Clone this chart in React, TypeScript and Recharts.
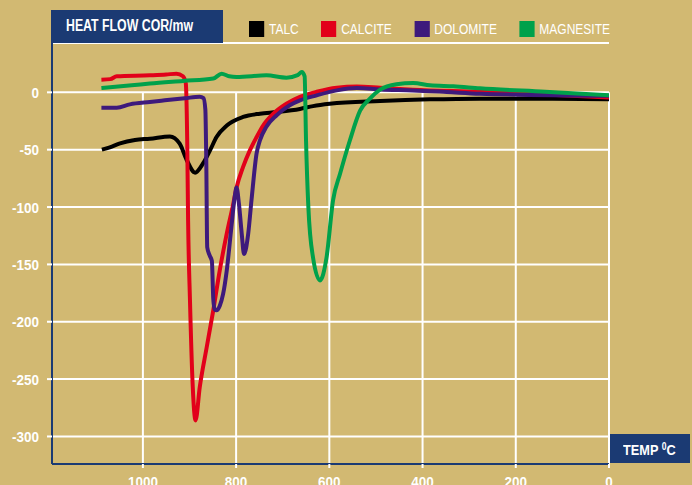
import React from 'react'
import {
  LineChart,
  Line,
  XAxis,
  YAxis,
  CartesianGrid,
  ReferenceLine,
  Legend,
} from 'recharts'

type Pt = { t: number; v: number }

const pts = (rows: number[][]): Pt[] => rows.map(([t, v]) => ({ t, v }))

// temperature (C) descending, heat flow (mw)
const talc = pts([
  [1088, -50], [1071, -48], [1049, -44.5], [1017, -41.5], [985, -40.4], [942, -38.4],
  [921, -44.7], [906, -59], [888, -70], [871, -62], [856, -50.6], [842, -39],
  [820, -29], [785, -21.5], [749, -18.6], [713, -17.2], [663, -14.5], [635, -12],
  [599, -10], [491, -7.6], [384, -6.1], [277, -5.5], [137, -5.5], [0, -6],
])

const calcite = pts([
  [1089, 11], [1070, 11.5], [1056, 14], [985, 14.8], [950, 15.5], [928, 16.3],
  [914, 14], [908, 8], [905, -40], [903, -112], [899, -181], [893, -257],
  [887, -286], [878, -257], [863, -222], [849, -190], [835, -155], [820, -123],
  [806, -97], [799, -83], [785, -65], [771, -51], [756, -39], [742, -29],
  [720, -18.6], [692, -10], [663, -4], [627, 0.5], [584, 4], [541, 5], [491, 4],
  [421, 2.3], [277, 0.5], [137, -2], [0, -4.5],
])

const dolomite = pts([
  [1089, -13.4], [1056, -13.4], [1028, -10.5], [985, -8.4], [953, -7], [910, -5.2],
  [878, -3.8], [870, -5], [866, -15], [864, -60], [862, -135], [857, -142],
  [852, -147], [849, -180], [846, -189], [842, -190], [835, -186], [828, -176],
  [820, -155], [810, -117], [803, -91], [799, -83], [794, -97], [788, -123],
  [783, -141], [774, -123], [767, -94], [756, -53], [749, -42], [735, -30],
  [713, -20], [685, -11.3], [663, -7], [627, -2.6], [584, 1.7], [541, 3.8],
  [491, 2.5], [421, 1.7], [348, 0.3], [277, -1.2], [0, -3],
])

const magnesite = pts([
  [1089, 3.8], [1024, 6.1], [985, 7.6], [914, 9.9], [849, 12], [831, 16.3],
  [815, 14], [799, 13.4], [735, 14.8], [692, 12.8], [668, 15], [659, 17.7],
  [653, 14], [650, -42], [645, -100], [635, -144], [620, -164], [606, -144],
  [592, -94], [577, -71], [556, -42], [534, -16], [513, -5.5], [491, 2.3],
  [456, 7], [420, 8.1], [384, 6.1], [334, 5.2], [277, 3.5], [137, 0.5], [0, -2.6],
])

const series = [
  { name: 'TALC', color: '#000000', data: talc },
  { name: 'CALCITE', color: '#E2001A', data: calcite },
  { name: 'DOLOMITE', color: '#3E1A7C', data: dolomite },
  { name: 'MAGNESITE', color: '#00A14B', data: magnesite },
]

const xTicks = [1000, 800, 600, 400, 200, 0]
const yTicks = [0, -50, -100, -150, -200, -250, -300]

const BG = '#D2B972'
const NAVY = '#1B3A73'
const FONT = '"Liberation Sans", Arial, sans-serif'

const squeeze = (x: number, k: number) => `translate(${x},0) scale(${k},1) translate(${-x},0)`

const YTick = (props: any) => {
  const { x, y, payload } = props
  return (
    <text x={x} y={y} dy={5.5} textAnchor="end" fill="#fff" fontSize={15} fontWeight={700}
      fontFamily={FONT} transform={squeeze(x, 0.9)}>
      {payload.value}
    </text>
  )
}

const XTick = (props: any) => {
  const { x, y, payload } = props
  return (
    <text x={x} y={y} dy={11} textAnchor="middle" fill="#fff" fontSize={15} fontWeight={700}
      fontFamily={FONT} transform={squeeze(x, 0.9)}>
      {payload.value}
    </text>
  )
}

const renderLegend = (props: any) => {
  const items = [...(props.payload || [])].sort(
    (a: any, b: any) =>
      series.findIndex((s) => s.name === a.value) - series.findIndex((s) => s.name === b.value),
  )
  return (
    <div style={{ display: 'flex', alignItems: 'center', fontFamily: FONT, transform: 'scaleX(0.8)', transformOrigin: '0 50%' }}>
      {items.map((p: any) => (
        <div key={p.value} style={{ display: 'flex', alignItems: 'center', marginRight: 28, whiteSpace: 'nowrap' }}>
          <span style={{ display: 'inline-block', width: 19, height: 16, background: p.color, marginRight: 6 }} />
          <span style={{ color: '#fff', fontSize: 15, lineHeight: '16px' }}>{p.value}</span>
        </div>
      ))}
    </div>
  )
}

export default function App() {
  return (
    <div style={{ position: 'absolute', left: 0, top: 0, width: 692, height: 485, background: BG, overflow: 'hidden' }}>
      <LineChart width={692} height={485} margin={{ top: 43, right: 83, bottom: 0, left: 0 }}>
        <CartesianGrid vertical={false} stroke="#fff" strokeWidth={2} />
        {xTicks.map((t) => (
          <ReferenceLine
            key={t}
            segment={[{ x: t, y: 0 }, { x: t, y: -324 }]}
            stroke="#fff"
            strokeWidth={2}
          />
        ))}
        <XAxis
          type="number"
          dataKey="t"
          domain={[0, 1195]}
          reversed
          allowDataOverflow
          ticks={xTicks}
          height={21}
          tickSize={4}
          tickMargin={8}
          axisLine={{ stroke: NAVY, strokeWidth: 2 }}
          tickLine={{ stroke: '#fff', strokeWidth: 2 }}
          tick={<XTick />}
        />
        <YAxis
          type="number"
          domain={[-324, 43]}
          allowDataOverflow
          ticks={yTicks}
          width={52}
          tickSize={5}
          tickMargin={8}
          axisLine={{ stroke: NAVY, strokeWidth: 2 }}
          tickLine={{ stroke: '#fff', strokeWidth: 2 }}
          tick={<YTick />}
        />
        <Legend
          verticalAlign="middle"
          align="center"
          content={renderLegend}
          wrapperStyle={{ left: 249, top: 21, width: 440, height: 16 }}
        />
        {series.map((s) => (
          <Line
            key={s.name}
            name={s.name}
            data={s.data}
            dataKey="v"
            type="monotone"
            stroke={s.color}
            strokeWidth={4}
            dot={false}
            activeDot={false}
            isAnimationActive={false}
          />
        ))}
      </LineChart>
      <div
        style={{
          position: 'absolute', left: 51, top: 10, width: 172, height: 33, background: NAVY,
          boxSizing: 'border-box', paddingLeft: 15, paddingTop: 8,
        }}
      >
        <div
          style={{
            color: '#fff', fontFamily: FONT, fontWeight: 700, fontSize: 16, lineHeight: '16px',
            whiteSpace: 'nowrap', transform: 'scaleX(0.77)', transformOrigin: '0 50%',
          }}
        >
          HEAT FLOW COR/mw
        </div>
      </div>
      <div
        style={{
          position: 'absolute', left: 610, top: 434, width: 80, height: 29, background: NAVY,
          boxSizing: 'border-box', paddingLeft: 13, paddingTop: 8,
        }}
      >
        <div
          style={{
            color: '#fff', fontFamily: FONT, fontWeight: 700, fontSize: 15, lineHeight: '15px',
            whiteSpace: 'nowrap', transform: 'scaleX(0.85)', transformOrigin: '0 50%',
          }}
        >
          TEMP <span style={{ fontSize: 10, position: 'relative', top: -5 }}>0</span>C
        </div>
      </div>
    </div>
  )
}
